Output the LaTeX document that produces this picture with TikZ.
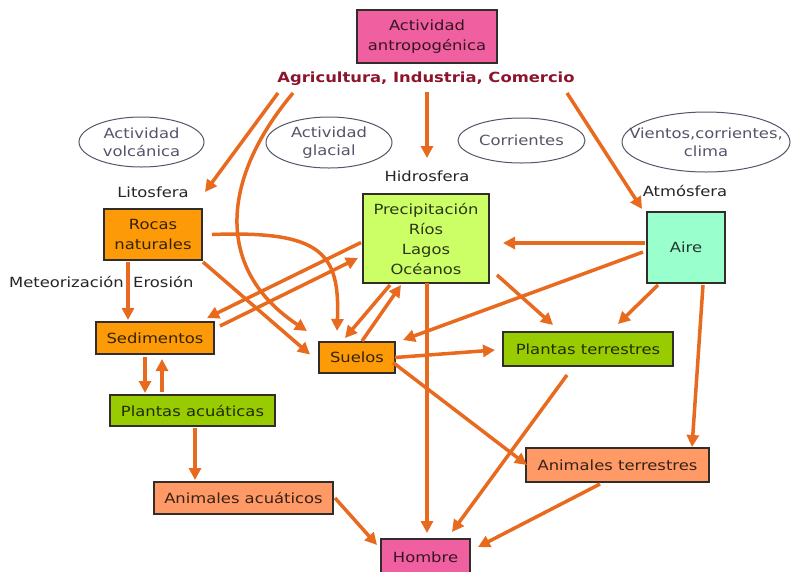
\documentclass[tikz,border=0pt]{standalone}
\usepackage{fontspec}
\setmainfont{DejaVu Sans}[FakeStretch=1.17]
\usetikzlibrary{arrows.meta,shapes.geometric}
\definecolor{arrc}{RGB}{232,106,30}
\definecolor{cpink}{RGB}{240,96,160}
\definecolor{corange}{RGB}{252,154,8}
\definecolor{clime}{RGB}{204,255,102}
\definecolor{caqua}{RGB}{153,255,204}
\definecolor{cgreen}{RGB}{153,204,0}
\definecolor{csalmon}{RGB}{255,153,102}
\definecolor{cagri}{RGB}{140,20,45}
\definecolor{cell}{RGB}{85,85,105}
\definecolor{cbord}{RGB}{50,45,40}
\begin{document}
\begin{tikzpicture}[x=1pt,y=-1pt,
  every node/.style={font=\fontsize{14}{20}\selectfont},
  box/.style={draw=cbord, line width=1.3pt, fill=#1, text=#1!22!black,
    inner sep=0pt, outer sep=0pt, align=center},
  ell/.style={ellipse, draw=cell, line width=1pt, inner sep=0pt},
  elltext/.style={text=cell, align=center, font=\fontsize{14}{18}\selectfont},
  lab/.style={text=black!85, inner sep=0pt},
  arr/.style={draw=arrc, line width=3.5pt, -{Triangle[length=12pt,width=12pt]}}
]
\useasboundingbox (0,0) rectangle (791,571);
\fill[white] (0,0) rectangle (791,571);
\clip (0,0) rectangle (791,571);

% nodes
\node[box=cpink, minimum width=140pt, minimum height=53pt] (act) at (427,36.5) {Actividad\\antropogénica};
\node[text=cagri, inner sep=0pt, font=\fontsize{14}{16}\selectfont\bfseries] (agri) at (426,79) {Agricultura, Industria, Comercio};

\node[ell, minimum width=125pt, minimum height=50pt] (volc) at (141.5,142) {};
\node[elltext] (volct) at (volc) {Actividad\\volcánica};
\node[ell, minimum width=126pt, minimum height=51pt] (glac) at (329,142.5) {};
\node[elltext] (glact) at (glac) {Actividad\\glacial};
\node[ell, minimum width=127pt, minimum height=45pt] (corr) at (521.5,140.5) {};
\node[elltext] (corrt) at (corr) {Corrientes};
\node[ell, minimum width=168pt, minimum height=60pt] (vient) at (706,142) {};
\node[elltext] (vientt) at (vient) {Vientos,corrientes,\\clima};

\node[lab] (lito) at (153,192) {Litosfera};
\node[lab] (hidro) at (427,176) {Hidrosfera};
\node[lab] (atmo) at (685,191) {Atmósfera};
\node[lab, anchor=east] (meteo) at (124,282) {Meteorización};
\node[lab, anchor=west] (eros) at (133,282) {Erosión};

\node[box=corange, minimum width=98pt, minimum height=51pt] (rocas) at (153,234.5) {Rocas\\naturales};
\node[box=clime, minimum width=126pt, minimum height=89pt] (prec) at (426,238.5) {Precipitación\\Ríos\\Lagos\\Océanos};
\node[box=caqua, minimum width=78pt, minimum height=71pt] (aire) at (686,247.5) {Aire};
\node[box=corange, minimum width=118pt, minimum height=32pt] (sed) at (155,338) {Sedimentos};
\node[box=corange, minimum width=76pt, minimum height=31pt] (suelos) at (357,357.5) {Suelos};
\node[box=cgreen, minimum width=170pt, minimum height=34pt] (pter) at (588,349) {Plantas terrestres};
\node[box=cgreen, minimum width=165pt, minimum height=31pt] (pacu) at (192.5,410.5) {Plantas acuáticas};
\node[box=csalmon, minimum width=183pt, minimum height=34pt] (ater) at (617.5,465) {Animales terrestres};
\node[box=csalmon, minimum width=179pt, minimum height=32pt] (aacu) at (243.5,498) {Animales acuáticos};
\node[box=cpink, minimum width=89pt, minimum height=36pt, text depth=0pt] (hombre) at (425.5,557) {Hombre};

% connectors
\draw[arr] ([shift={(-148,14)}]agri.center) -- ([shift={(3,-17)}]rocas.north east);
\draw[arr] ([shift={(-133,14)}]agri.center) .. controls +(-73,87) and +(-92,-61) .. ([shift={(-12,-11)}]suelos.north west);
\draw[arr] ([shift={(1,13)}]agri.center) -- ([shift={(1,-36)}]prec.north);
\draw[arr] ([shift={(141,14)}]agri.center) -- ([shift={(-5,-3)}]aire.north west);

\draw[arr] ([shift={(24,2)}]rocas.south west) -- ([shift={(32,-2)}]sed.north west);
\draw[arr] ([shift={(1,2)}]rocas.south east) -- ([shift={(-9,-3)}]suelos.west);
\draw[arr] ([shift={(10,0)}]rocas.east) .. controls +(110,-4) and +(3,-78) .. ([shift={(18,-11)}]suelos.north west);

\draw[arr] ([shift={(-2,4)}]prec.west) -- ([shift={(-7,-4)}]sed.north east);
\draw[arr] ([shift={(6,-12)}]sed.east) -- ([shift={(-5,19.5)}]prec.west);
\draw[arr] ([shift={(27,2)}]prec.south west) -- ([shift={(26,-4)}]suelos.north west);
\draw[arr] ([shift={(43,-1)}]suelos.north west) -- ([shift={(38,2)}]prec.south west);

\draw[arr] ([shift={(-2,-4.5)}]aire.west) -- ([shift={(14,4.5)}]prec.east);
\draw[arr] ([shift={(-4,4.5)}]aire.west) -- ([shift={(8,-17.5)}]suelos.east);
\draw[arr] ([shift={(8,-8)}]prec.south east) -- ([shift={(50,-7)}]pter.north west);
\draw[arr] ([shift={(11,2)}]aire.south west) -- ([shift={(-55,-8)}]pter.north east);
\draw[arr] (suelos.east) -- ([shift={(-8,1)}]pter.west);
\draw[arr] ([shift={(1,0)}]prec.south) -- ([shift={(1.5,-6)}]hombre.north);
\draw[arr] ([shift={(-22,2)}]aire.south east) -- ([shift={(-17,-1)}]ater.north east);
\draw[arr] ([shift={(64,9)}]pter.south west) -- ([shift={(-18,-7)}]hombre.north east);
\draw[arr] ([shift={(-2,5)}]suelos.east) -- ([shift={(1,0)}]ater.west);
\draw[arr] ([shift={(-17.5,2)}]ater.south) -- ([shift={(8,-10)}]hombre.east);
\draw[arr] ([shift={(2,0)}]aacu.east) -- ([shift={(-4,-12)}]hombre.west);

\draw[arr] ([shift={(85,2)}]pacu.south west) -- ([shift={(41,-2)}]aacu.north west);
\draw[arr] ([shift={(49,3)}]sed.south west) -- ([shift={(35,-2)}]pacu.north west);
\draw[arr] ([shift={(52,-3)}]pacu.north west) -- ([shift={(66,5)}]sed.south west);
\end{tikzpicture}
\end{document}
